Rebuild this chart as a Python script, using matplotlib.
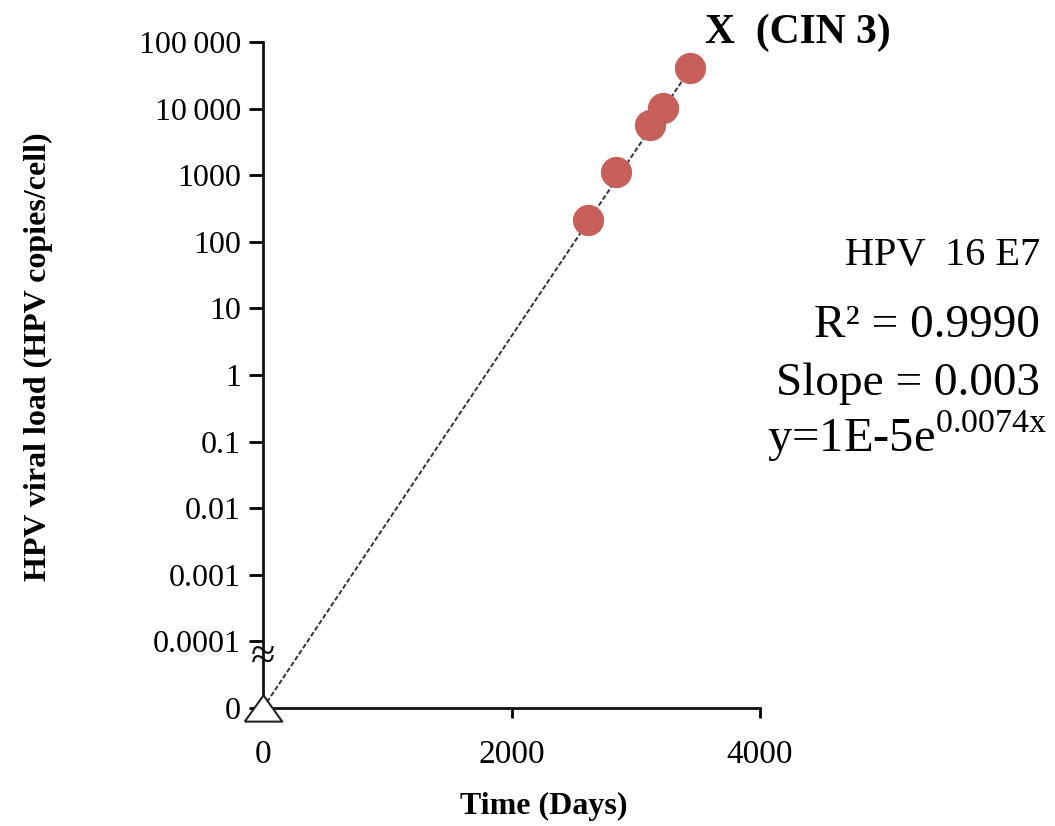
import numpy as np
import matplotlib
matplotlib.use("Agg")
from matplotlib import pyplot as plt

# data
days = [2616, 2841, 3115, 3219, 3437]
load = [213, 1120, 5650, 10200, 40700]

# baseline point (plotted as "0" at the bottom of the log axis)
base_day = [0]
base_load = [1e-5]

# fitted line end points
fit_days = [0, 3440]
fit_load = [1e-5, 40000]

ytick_vals = [1e-5, 1e-4, 1e-3, 1e-2, 1e-1, 1, 10, 100, 1000, 10000, 100000]
ytick_labels = ["0", "0.0001", "0.001", "0.01", "0.1", "1", "10", "100", "1000",
                "10\u2009000", "100\u2009000"]
xtick_vals = [0, 2000, 4000]
xtick_labels = ["0", "2000", "4000"]

plt.rcParams['font.family'] = ['Liberation Serif', 'DejaVu Serif']

fig = plt.figure(figsize=(10.55, 8.26), dpi=100)
ax = fig.add_axes([263/1055, 1 - 708/826, (760-263)/1055, (708-42)/826])

ax.set_yscale("log")
ax.set_xlim(0, 4000)
ax.set_ylim(1e-5, 1e5)

# fit line
ax.plot(fit_days, fit_load, color="#333333", lw=1.4, ls=(0, (2.5, 1.2)), zorder=2)

# measured points
ax.plot(days, load, "o", ms=22.5, color="#c65f5a", mec="none", zorder=3)

# baseline triangle
tri = [(-1, -0.7), (1, -0.7), (0, 0.7), (-1, -0.7)]
ax.plot(base_day, base_load, marker=tri, ms=27, mfc="white", mec="#222222",
        mew=1.5, ls="none", clip_on=False, zorder=4)

for s in ["top", "right"]:
    ax.spines[s].set_visible(False)
for s in ["left", "bottom"]:
    ax.spines[s].set_linewidth(2)
    ax.spines[s].set_color("#111111")

ax.set_yticks(ytick_vals)
ax.set_yticklabels(ytick_labels)
ax.yaxis.set_minor_locator(matplotlib.ticker.NullLocator())
ax.set_xticks(xtick_vals)
ax.set_xticklabels(xtick_labels)
ax.tick_params(axis="y", length=10, width=2, pad=6, labelsize=23)
ax.tick_params(axis="x", length=7, width=2, pad=16, labelsize=24)

# axis break mark
ax.text(0, 0.075, "\u2248", transform=ax.transAxes, ha="center", va="center",
        fontsize=32, color="#111111", clip_on=False)

ax.set_ylabel("HPV viral load (HPV copies/cell)", fontsize=23, fontweight="bold")
ax.yaxis.set_label_coords(-0.423, 0.527)
ax.set_xlabel("Time (Days)", fontsize=23, fontweight="bold")
ax.xaxis.set_label_coords(0.565, -0.126)

fig.text(705/1055, 1 - 43/826, "X  (CIN 3)", fontsize=30, fontweight="bold",
         ha="left", va="baseline")

fig.text(1040/1055, 1 - 265/826, "HPV  16 E7", fontsize=29, ha="right", va="baseline")
fig.text(1040/1055, 1 - 337/826, "R\u00b2 = 0.9990", fontsize=34, ha="right", va="baseline")
fig.text(1040/1055, 1 - 395/826, "Slope = 0.003", fontsize=34, ha="right", va="baseline")
fig.text(1048/1055, 1 - 452/826, r"y=1E-5e$^{\mathregular{0.0074x}}$", fontsize=35,
         ha="right", va="baseline")

fig.savefig("out.png", dpi=100)
